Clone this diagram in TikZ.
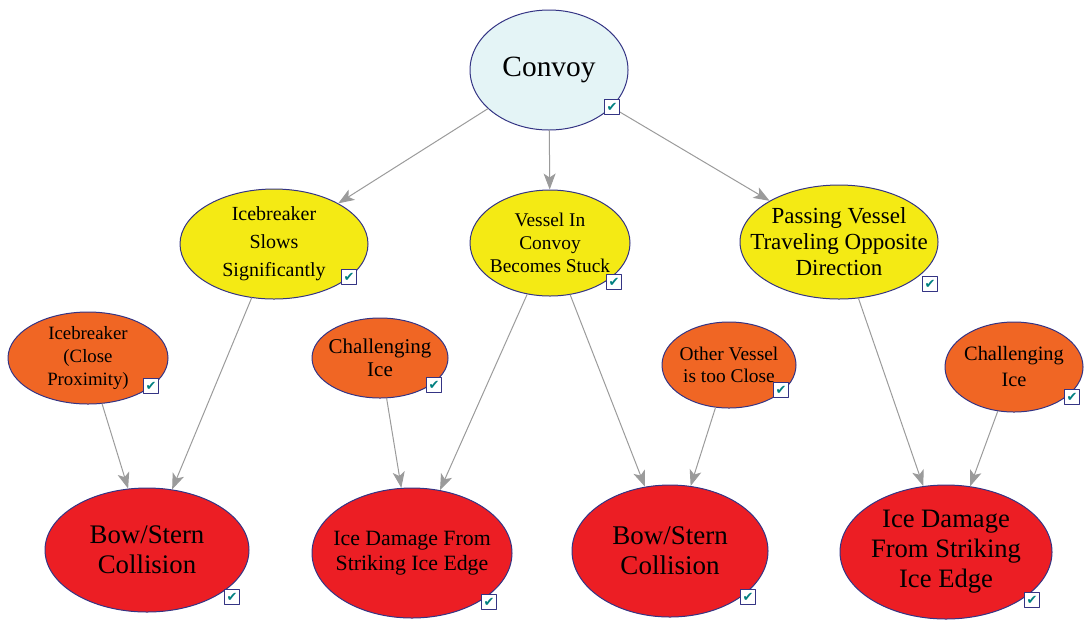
\documentclass[tikz,border=0pt]{standalone}
\usepackage{fontspec}
\setmainfont{Liberation Serif}
\newfontfamily\checkfont{DejaVu Sans}
\usepackage{tikz}
\usetikzlibrary{arrows.meta,shapes.geometric}
\definecolor{cyanfill}{RGB}{228,244,246}
\definecolor{yellowfill}{RGB}{244,234,20}
\definecolor{orangefill}{RGB}{240,102,36}
\definecolor{redfill}{RGB}{236,30,36}
\definecolor{navyline}{RGB}{52,52,132}
\definecolor{edgegray}{RGB}{155,155,155}
\definecolor{checkteal}{RGB}{0,128,128}
\tikzset{
  bubble/.style={ellipse,draw=navyline,line width=0.5pt,inner sep=0pt},
  txt/.style={align=center,inner sep=0pt},
  chk/.style={rectangle,draw=navyline,fill=white,line width=0.6pt,minimum size=7.5pt,inner sep=0pt,text=checkteal,font=\checkfont\fontsize{6.5}{6.5}\selectfont},
  link/.style={draw=edgegray,line width=0.5pt,-{Stealth[length=8pt,width=6pt,inset=2pt,fill=edgegray]}}
}

\begin{document}
\begin{tikzpicture}[line cap=round,line join=round,x=0.5pt,y=-0.5pt]
\useasboundingbox (0,0) rectangle (1085,628);
% top
\node[bubble,fill=cyanfill,minimum width=79pt,minimum height=60pt,label={[txt,font=\fontsize{14.7}{17}\selectfont]center:Convoy}] (convoy) at (549,70) {};
% middle row
\node[bubble,fill=yellowfill,minimum width=94pt,minimum height=55pt,label={[txt,font=\fontsize{10}{14}\selectfont]center:Icebreaker\\Slows\\Significantly}] (slows) at (274,244) {};
\node[bubble,fill=yellowfill,minimum width=80pt,minimum height=53pt,label={[txt,font=\fontsize{9.7}{11.5}\selectfont]center:Vessel In\\Convoy\\Becomes Stuck}] (stuck) at (550,243) {};
\node[bubble,fill=yellowfill,minimum width=99pt,minimum height=57pt,label={[txt,font=\fontsize{11.5}{13}\selectfont]center:Passing Vessel\\Traveling Opposite\\Direction}] (passing) at (839,242) {};
\node[bubble,fill=orangefill,minimum width=80pt,minimum height=46pt,label={[txt,font=\fontsize{9.4}{11.7}\selectfont]center:Icebreaker\\(Close\\Proximity)}] (closeib) at (88,358) {};
\node[bubble,fill=orangefill,minimum width=68pt,minimum height=40pt,label={[txt,font=\fontsize{10.5}{11.5}\selectfont]center:Challenging\\Ice}] (icea) at (380,358) {};
\node[bubble,fill=orangefill,minimum width=67pt,minimum height=43pt,label={[txt,font=\fontsize{9.7}{11}\selectfont]center:Other Vessel\\is too Close}] (otherv) at (729,365) {};
\node[bubble,fill=orangefill,minimum width=69pt,minimum height=45pt,label={[txt,font=\fontsize{10.2}{13}\selectfont]center:Challenging\\Ice}] (iceb) at (1014,367) {};
% bottom row
\node[bubble,fill=redfill,minimum width=102pt,minimum height=62pt,label={[txt,font=\fontsize{13.4}{15}\selectfont]center:Bow/Stern\\Collision}] (bowa) at (147,550) {};
\node[bubble,fill=redfill,minimum width=100pt,minimum height=65pt,label={[txt,font=\fontsize{10.9}{12.5}\selectfont]center:Ice Damage From\\Striking Ice Edge}] (dmga) at (412,553) {};
\node[bubble,fill=redfill,minimum width=98pt,minimum height=66pt,label={[txt,font=\fontsize{13.5}{15}\selectfont]center:Bow/Stern\\Collision}] (bowb) at (670,551) {};
\node[bubble,fill=redfill,minimum width=106pt,minimum height=67pt,label={[txt,font=\fontsize{13.3}{15}\selectfont]center:Ice Damage\\From Striking\\Ice Edge}] (dmgb) at (946,552) {};
% links
\draw[link] (convoy) -- (slows);
\draw[link] (convoy) -- (stuck);
\draw[link] (convoy) -- (passing);
\draw[link] (slows) -- (bowa);
\draw[link] (closeib) -- (bowa);
\draw[link] (icea) -- (dmga);
\draw[link] (stuck) -- (dmga);
\draw[link] (stuck) -- (bowb);
\draw[link] (otherv) -- (bowb);
\draw[link] (passing) -- (dmgb);
\draw[link] (iceb) -- (dmgb);
% check boxes
\node[chk] (c1) at (612,107) {✔};
\node[chk] (c2) at (349,277) {✔};
\node[chk] (c3) at (614,282) {✔};
\node[chk] (c4) at (930,284) {✔};
\node[chk] (c5) at (151,386) {✔};
\node[chk] (c6) at (434,385) {✔};
\node[chk] (c7) at (781,390) {✔};
\node[chk] (c8) at (1072,397) {✔};
\node[chk] (c9) at (232,597) {✔};
\node[chk] (c10) at (489,602) {✔};
\node[chk] (c11) at (748,597) {✔};
\node[chk] (c12) at (1032,600) {✔};
\end{tikzpicture}
\end{document}
